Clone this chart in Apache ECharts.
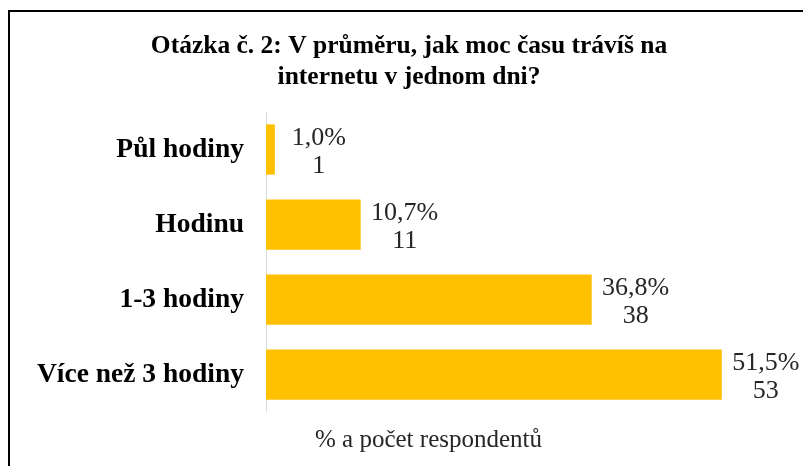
<!DOCTYPE html>
<html>
<head>
<meta charset="utf-8">
<script src="https://cdn.jsdelivr.net/npm/echarts@6/dist/echarts.min.js"></script>
<style>
  html, body { margin: 0; padding: 0; background: #fff; }
  #chart { width: 803px; height: 466px; }
</style>
</head>
<body>
<div id="chart"></div>
<script>
// answers, top to bottom
var categories = ['Půl hodiny', 'Hodinu', '1-3 hodiny', 'Více než 3 hodiny'];
// share of respondents in %
var percents = [1.0, 10.7, 36.8, 51.5];
// number of respondents
var counts = [1, 11, 38, 53];

var serif = '"Liberation Serif", "DejaVu Serif", serif';

var myChart = echarts.init(document.getElementById('chart'));

var option = {
  backgroundColor: '#fff',
  animation: false,
  title: {
    text: 'Otázka č. 2: V průměru, jak moc času trávíš na\ninternetu v jednom dni?',
    left: 404,
    top: 26,
    textAlign: 'center',
    textStyle: {
      fontFamily: serif,
      fontWeight: 'bold',
      fontSize: 25.5,
      lineHeight: 31,
      color: '#000'
    }
  },
  graphic: [
    {
      type: 'rect',
      shape: { x: 9, y: 11, width: 820, height: 480 },
      style: { fill: 'none', stroke: '#000', lineWidth: 2 },
      silent: true
    }
  ],
  grid: {
    left: 266,
    right: 6,
    top: 112,
    bottom: 54
  },
  xAxis: {
    type: 'value',
    min: 0,
    max: 60,
    name: '% a počet respondentů',
    nameLocation: 'middle',
    nameGap: 16,
    nameTextStyle: {
      fontFamily: serif,
      fontSize: 25,
      color: '#262626',
      padding: [0, 206, 0, 0]
    },
    axisLine: { show: false },
    axisTick: { show: false },
    axisLabel: { show: false },
    splitLine: { show: false }
  },
  yAxis: {
    type: 'category',
    inverse: true,
    data: categories,
    axisLine: { show: true, lineStyle: { color: '#d9d9d9', width: 1 } },
    axisTick: { show: false },
    axisLabel: {
      margin: 22,
      fontFamily: serif,
      fontWeight: 'bold',
      fontSize: 27.5,
      color: '#000'
    }
  },
  series: [
    {
      type: 'bar',
      data: percents,
      barCategoryGap: '33%',
      itemStyle: { color: '#FFC000' },
      label: {
        show: true,
        position: 'right',
        distance: 44,
        align: 'center',
        offset: [0, 3],
        fontFamily: serif,
        fontSize: 26,
        lineHeight: 28,
        color: '#262626',
        formatter: function (p) {
          return percents[p.dataIndex].toFixed(1).replace('.', ',') + '%\n' + counts[p.dataIndex];
        }
      }
    }
  ]
};

myChart.setOption(option);
</script>
</body>
</html>
